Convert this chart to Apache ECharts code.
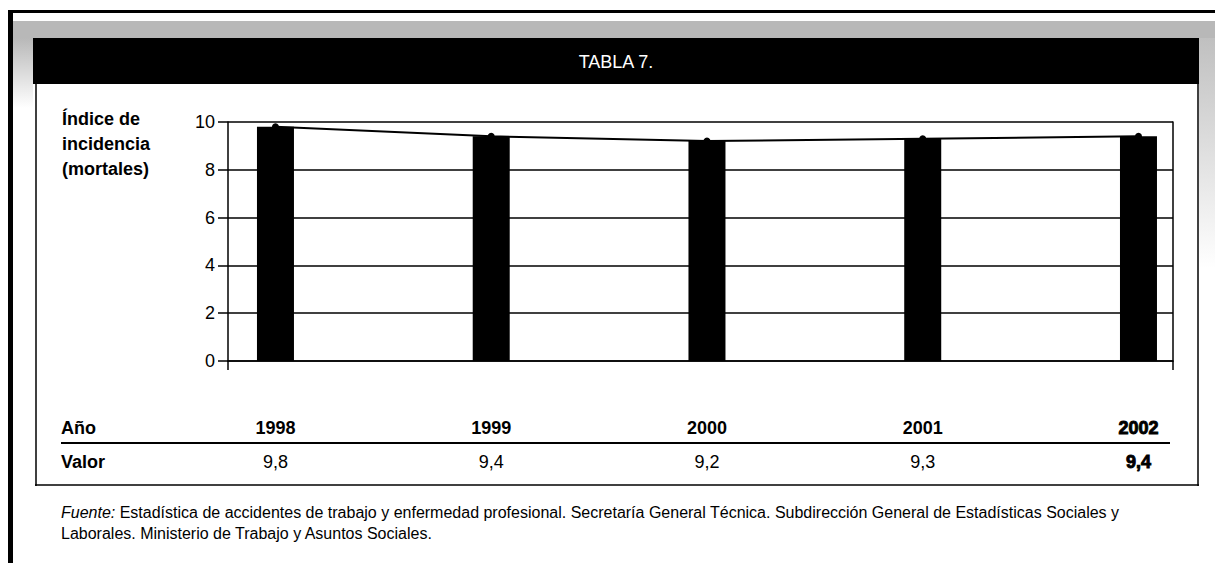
<!DOCTYPE html>
<html>
<head>
<meta charset="utf-8">
<title>Tabla 7</title>
<script src="https://cdn.jsdelivr.net/npm/echarts@6.0.0/dist/echarts.min.js"></script>
<style>
  html, body { margin: 0; padding: 0; background: #fff; }
  #chart { width: 1215px; height: 565px; }
</style>
</head>
<body>
<div id="chart"></div>
<script>
// datos de la tabla
const years = [1998, 1999, 2000, 2001, 2002];
const values = [9.8, 9.4, 9.2, 9.3, 9.4];
const yMin = 0, yMax = 10, yStep = 2;
const axisTitle = ['Índice de', 'incidencia', '(mortales)'];
const rowLabels = ['Año', 'Valor'];
const headerText = 'TABLA 7.';
const sourceText = '{i|Fuente:} Estadística de accidentes de trabajo y enfermedad profesional. Secretaría General Técnica. Subdirección General de Estadísticas Sociales y\nLaborales. Ministerio de Trabajo y Asuntos Sociales.';

const FONT = '"Liberation Sans", Arial, sans-serif';
const xMin = 1997.78, xMax = 2002.16;

const chart = echarts.init(document.getElementById('chart'), null, { renderer: 'svg' });

const points = years.map((y, i) => [y, values[i]]);

chart.setOption({
  animation: false,
  backgroundColor: '#fff',
  grid: { left: 228, right: 42, top: 122, bottom: 204 },
  xAxis: {
    type: 'value',
    min: xMin,
    max: xMax,
    axisLine: { show: true, onZero: false, lineStyle: { color: '#000', width: 1.5 } },
    axisTick: { show: true, customValues: [xMin, xMax], length: 9, lineStyle: { color: '#000', width: 1.5 } },
    axisLabel: { show: false },
    splitLine: { show: false }
  },
  yAxis: [
    {
      type: 'value',
      min: yMin,
      max: yMax,
      interval: yStep,
      axisLine: { show: true, lineStyle: { color: '#000', width: 1.5 } },
      axisTick: { show: true, length: 10, lineStyle: { color: '#000', width: 1.5 } },
      axisLabel: { margin: 13, color: '#000', fontSize: 18, fontFamily: FONT },
      splitLine: { show: true, lineStyle: { color: '#000', width: 1.6 } }
    },
    {
      type: 'value',
      position: 'right',
      min: yMin,
      max: yMax,
      interval: yStep,
      axisLine: { show: true, lineStyle: { color: '#000', width: 1.5 } },
      axisTick: { show: false },
      axisLabel: { show: false },
      splitLine: { show: false }
    }
  ],
  series: [
    {
      type: 'bar',
      data: points,
      barWidth: 37,
      itemStyle: { color: '#000' },
      z: 2
    },
    {
      type: 'line',
      data: points,
      symbol: 'circle',
      symbolSize: 7,
      itemStyle: { color: '#000' },
      lineStyle: { color: '#000', width: 2 },
      z: 3
    }
  ]
});

// tabla y marco, alineados con el eje x
const xs = years.map(y => chart.convertToPixel({ xAxisIndex: 0 }, y));
const last = years.length - 1;

const graphics = [];
// franja gris y linea superior
graphics.push({ type: 'rect', shape: { x: 13, y: 21, width: 1202, height: 17 }, style: { fill: '#b8b8b8' } });
graphics.push({ type: 'rect', shape: { x: 13, y: 38, width: 20, height: 70 },
  style: { fill: new echarts.graphic.LinearGradient(0, 0, 0, 1, [{ offset: 0, color: '#b8b8b8' }, { offset: 1, color: '#fff' }]) } });
graphics.push({ type: 'rect', shape: { x: 1199, y: 38, width: 16, height: 230 },
  style: { fill: new echarts.graphic.LinearGradient(0, 0, 0, 1, [{ offset: 0, color: '#c0c0c0' }, { offset: 1, color: '#fff' }]) } });
graphics.push({ type: 'rect', shape: { x: 8, y: 10, width: 1207, height: 3 }, style: { fill: '#000' } });
graphics.push({ type: 'rect', shape: { x: 8, y: 10, width: 5, height: 553 }, style: { fill: '#000' } });
// cabecera negra
graphics.push({ type: 'rect', shape: { x: 33, y: 38, width: 1166, height: 46 }, style: { fill: '#000' } });
graphics.push({ type: 'text', x: 616, y: 62, style: { text: headerText, fill: '#fff', fontSize: 18, fontFamily: FONT, align: 'center', verticalAlign: 'middle' } });
// bordes de la caja
graphics.push({ type: 'line', shape: { x1: 36, y1: 84, x2: 36, y2: 486 }, style: { stroke: '#000', lineWidth: 1.5 } });
graphics.push({ type: 'line', shape: { x1: 1198, y1: 84, x2: 1198, y2: 486 }, style: { stroke: '#000', lineWidth: 1.5 } });
graphics.push({ type: 'line', shape: { x1: 35, y1: 485, x2: 1199, y2: 485 }, style: { stroke: '#000', lineWidth: 1.5 } });
// titulo del eje
graphics.push({ type: 'text', x: 62, y: 106, style: { text: axisTitle.join('\n'), fill: '#000', fontSize: 18, fontWeight: 'bold', fontFamily: FONT, lineHeight: 25, verticalAlign: 'top' } });
// filas de la tabla
graphics.push({ type: 'text', x: 61, y: 428, style: { text: rowLabels[0], fill: '#000', fontSize: 18, fontWeight: 'bold', fontFamily: FONT, verticalAlign: 'middle' } });
graphics.push({ type: 'text', x: 61, y: 462, style: { text: rowLabels[1], fill: '#000', fontSize: 18, fontWeight: 'bold', fontFamily: FONT, verticalAlign: 'middle' } });
graphics.push({ type: 'line', shape: { x1: 61, y1: 443, x2: 1170, y2: 443 }, style: { stroke: '#000', lineWidth: 2 } });
years.forEach((y, i) => {
  const strong = i === last;
  graphics.push({ type: 'text', x: xs[i], y: 428, style: {
    text: String(y), fill: '#000', fontSize: 18, fontWeight: 'bold', fontFamily: FONT,
    align: 'center', verticalAlign: 'middle',
    stroke: strong ? '#000' : null, lineWidth: strong ? 0.9 : 0 } });
  graphics.push({ type: 'text', x: xs[i], y: 462, style: {
    text: values[i].toFixed(1).replace('.', ','), fill: '#000', fontSize: 18,
    fontWeight: strong ? 'bold' : 'normal', fontFamily: FONT,
    align: 'center', verticalAlign: 'middle',
    stroke: strong ? '#000' : null, lineWidth: strong ? 0.9 : 0 } });
});
// fuente
graphics.push({ type: 'text', x: 61, y: 502, style: {
  text: sourceText, fill: '#000', fontSize: 16, fontFamily: FONT, lineHeight: 21, verticalAlign: 'top',
  rich: { i: { fontStyle: 'italic', fontSize: 16, fontFamily: FONT, fill: '#000' } } } });

chart.setOption({ graphic: graphics });
</script>
</body>
</html>
